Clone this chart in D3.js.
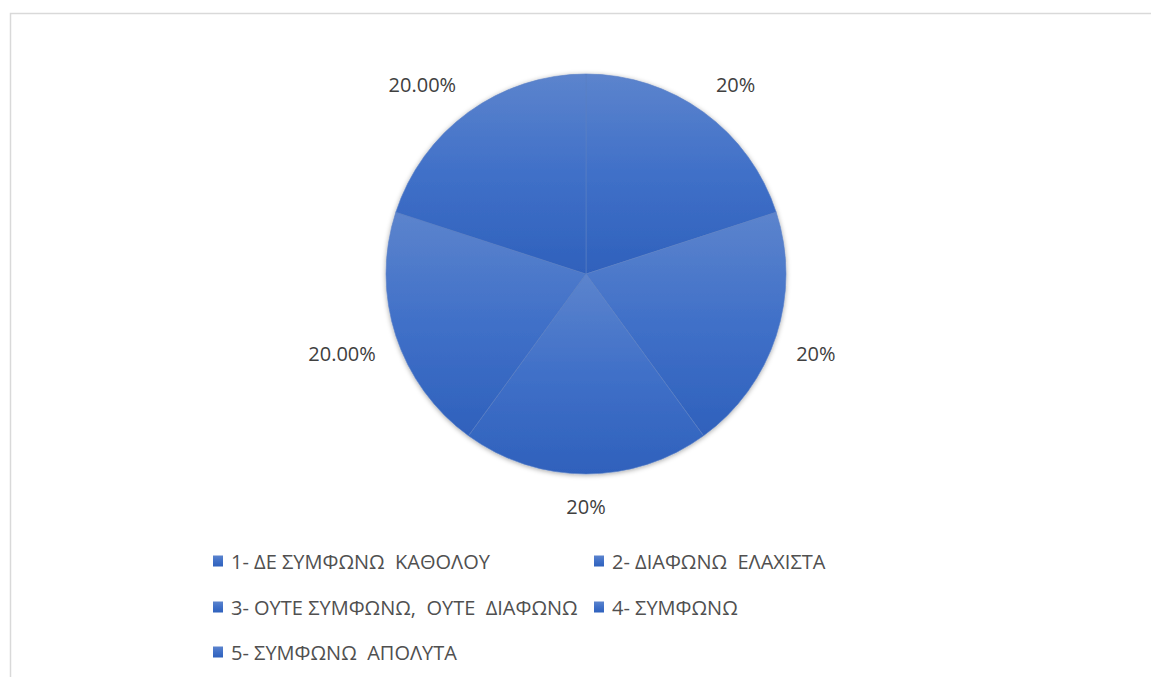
<!DOCTYPE html>
<html>
<head>
<meta charset="utf-8">
<script src="https://cdn.jsdelivr.net/npm/d3@7"></script>
<style>
  body { margin: 0; background: #fff; }
  text { font-family: "Open Sans", "Noto Sans", sans-serif; fill: #404040; white-space: pre; }
</style>
</head>
<body>
<svg id="chart"></svg>
<script>
let width = 1151,
    height = 677;

let categories = [
    '1- ΔΕ ΣΥΜΦΩΝΩ  ΚΑΘΟΛΟΥ',
    '2- ΔΙΑΦΩΝΩ  ΕΛΑΧΙΣΤΑ',
    '3- ΟΥΤΕ ΣΥΜΦΩΝΩ,  ΟΥΤΕ  ΔΙΑΦΩΝΩ',
    '4- ΣΥΜΦΩΝΩ',
    '5- ΣΥΜΦΩΝΩ  ΑΠΟΛΥΤΑ'
];
let values = [20, 20, 20, 20, 20];
let valueLabels = ['20%', '20%', '20%', '20.00%', '20.00%'];

let cx = 586, cy = 274, radius = 200;

let svg = d3.select('svg#chart')
    .attr('width', width)
    .attr('height', height);

// chart area border (cut off on the right and bottom)
svg.append('rect')
    .attr('x', 10.5)
    .attr('y', 13.5)
    .attr('width', width)
    .attr('height', height)
    .attr('fill', 'none')
    .attr('stroke', '#d9d9d9')
    .attr('stroke-width', 1.5);

let defs = svg.append('defs');

let grad = defs.append('linearGradient')
    .attr('id', 'sliceFill')
    .attr('x1', 0).attr('y1', 0)
    .attr('x2', 0).attr('y2', 1);
grad.append('stop').attr('offset', '0%').attr('stop-color', '#5c84cd');
grad.append('stop').attr('offset', '50%').attr('stop-color', '#4070c8');
grad.append('stop').attr('offset', '100%').attr('stop-color', '#2f61bc');

let shadow = defs.append('filter')
    .attr('id', 'shadow')
    .attr('x', '-10%').attr('y', '-10%')
    .attr('width', '120%').attr('height', '120%');
shadow.append('feDropShadow')
    .attr('dx', 0).attr('dy', 1)
    .attr('stdDeviation', 2.5)
    .attr('flood-color', '#000')
    .attr('flood-opacity', 0.35);

let pie = d3.pie().sort(null).value(d => d);
let arcs = pie(values);

let arc = d3.arc().innerRadius(0).outerRadius(radius);
let labelR = 221;

let g = svg.append('g')
    .attr('transform', `translate(${cx},${cy})`);

g.append('g')
    .attr('filter', 'url(#shadow)')
    .selectAll('path')
    .data(arcs)
    .join('path')
    .attr('d', arc)
    .attr('fill', 'url(#sliceFill)')
    .attr('stroke', '#5b7fc4')
    .attr('stroke-width', 0.6);

// labels sit just outside the pie, with their nearest box corner on labelR
g.selectAll('text.label')
    .data(arcs)
    .join('text')
    .attr('class', 'label')
    .attr('text-anchor', 'middle')
    .attr('dominant-baseline', 'central')
    .attr('font-size', 20)
    .text((d, i) => valueLabels[i])
    .attr('transform', function(d) {
        let a = (d.startAngle + d.endAngle) / 2;
        let dx = Math.sin(a), dy = -Math.cos(a);
        let box = this.getBBox();
        let sx = Math.abs(dx) < 0.05 ? 0 : Math.sign(dx);
        let sy = Math.abs(dy) < 0.05 ? 0 : Math.sign(dy);
        let x = dx * labelR + sx * box.width / 2;
        let y = dy * labelR + sy * 11;
        return `translate(${x},${y})`;
    });

// legend
let legendX = [213, 594],
    legendY = [561, 607, 652];

let legend = svg.append('g')
    .selectAll('g')
    .data(categories)
    .join('g')
    .attr('transform', (d, i) => `translate(${legendX[i % 2]},${legendY[Math.floor(i / 2)]})`);

legend.append('rect')
    .attr('x', 0)
    .attr('y', -5.5)
    .attr('width', 10)
    .attr('height', 11)
    .attr('fill', 'url(#sliceFill)');

legend.append('text')
    .attr('x', 18)
    .attr('y', 0)
    .attr('dominant-baseline', 'central')
    .attr('font-size', 20)
    .style('fill', '#505050')
    .text(d => d);
</script>
</body>
</html>
